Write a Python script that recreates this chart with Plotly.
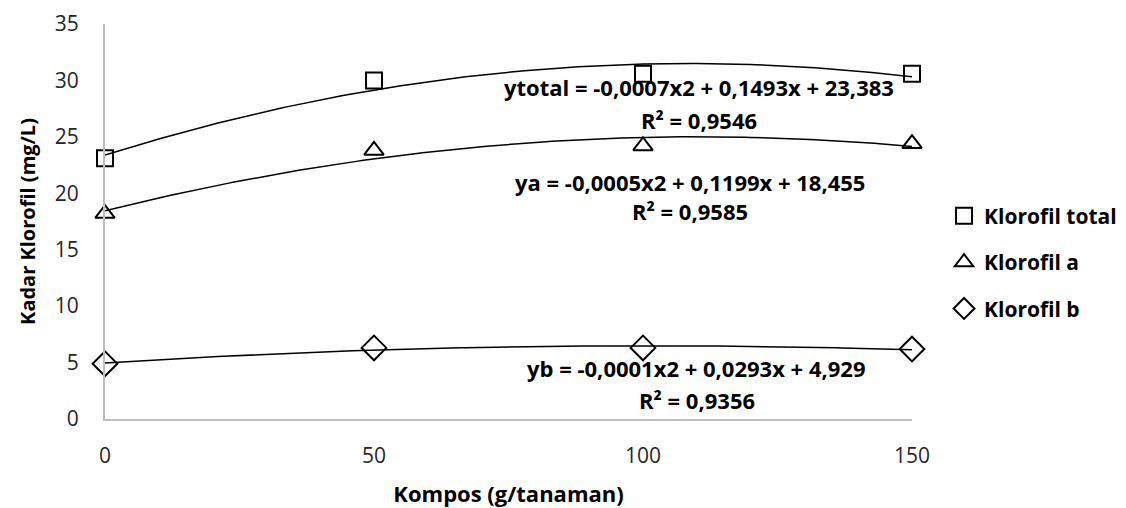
import numpy as np
import plotly.graph_objects as go

# ---- data ----
kompos = [0, 50, 100, 150]
klorofil_total = [23.1, 30.0, 30.6, 30.6]
klorofil_a = [18.2, 23.8, 24.2, 24.4]
klorofil_b = [4.9, 6.3, 6.3, 6.2]

series_names = ["Klorofil total", "Klorofil a", "Klorofil b"]
equations = [
    "ytotal = -0,0007x2 + 0,1493x + 23,383",
    "ya = -0,0005x2 + 0,1199x + 18,455",
    "yb = -0,0001x2 + 0,0293x + 4,929",
]
r_squared = ["R² = 0,9546", "R² = 0,9585", "R² = 0,9356"]
y_ticks = [0, 5, 10, 15, 20, 25, 30, 35]
x_ticks = [0, 50, 100, 150]

FONT = "Open Sans"
symbols = ["square-open", "triangle-up-open", "diamond-open"]
sizes = [16, 17, 19]

fig = go.Figure()
xs = np.linspace(min(kompos), max(kompos), 151)
all_series = [klorofil_total, klorofil_a, klorofil_b]

# polynomial (order 2) trendlines fitted to the data, as in the source chart
for vals in all_series:
    coef = np.polyfit(kompos, vals, 2)
    fig.add_trace(go.Scatter(x=xs, y=np.polyval(coef, xs), mode="lines",
                             line=dict(color="black", width=1.5),
                             showlegend=False, hoverinfo="skip", cliponaxis=False))

for i, (vals, name) in enumerate(zip(all_series, series_names)):
    fig.add_trace(go.Scatter(x=kompos, y=vals, mode="markers", name=name,
                             legendgroup=name, cliponaxis=False,
                             marker=dict(symbol=symbols[i], size=sizes[i],
                                         color="black",
                                         line=dict(color="black", width=2))))

# equation annotations (positions in data coords)
eq_pos = [(110.4, 29.4), (108.7, 21.0), (110.0, 4.5)]
r2_pos = [(110.4, 26.5), (108.8, 18.4), (110.0, 1.7)]
for (ex, ey), (rx, ry), eq, r2 in zip(eq_pos, r2_pos, equations, r_squared):
    fig.add_annotation(x=ex, y=ey, xref="x", yref="y", text=f"<b>{eq}</b>",
                       showarrow=False, font=dict(family=FONT, size=22, color="black"))
    fig.add_annotation(x=rx, y=ry, xref="x", yref="y", text=f"<b>{r2}</b>",
                       showarrow=False, font=dict(family=FONT, size=22, color="black"))

fig.update_layout(
    width=1126, height=508,
    margin=dict(l=105, r=214, t=24, b=89, autoexpand=False),
    paper_bgcolor="white", plot_bgcolor="white",
    font=dict(family=FONT, size=21, color="#404040"),
    showlegend=True,
    legend=dict(x=1.0397, y=0.397, xanchor="left", yanchor="middle",
                font=dict(family=FONT, size=21, color="black", weight="bold"),
                tracegroupgap=16, itemwidth=30, bgcolor="rgba(0,0,0,0)"),
)
fig.update_xaxes(range=[0, 150], tickvals=x_ticks, showgrid=False, zeroline=False,
                 showline=True, linecolor="#bfbfbf", linewidth=2,
                 ticks="", ticklabelstandoff=17,
                 tickfont=dict(family=FONT, size=21, color="#262626"),
                 title=dict(text="<b>Kompos (g/tanaman)</b>", standoff=22,
                            font=dict(family=FONT, size=22, color="black")),
                 automargin=False)
fig.update_yaxes(range=[0, 35], tickvals=y_ticks, showgrid=False, zeroline=False,
                 showline=True, linecolor="#bfbfbf", linewidth=2,
                 ticks="", ticklabelstandoff=20,
                 tickfont=dict(family=FONT, size=21, color="#262626"),
                 title=dict(text="<b>Kadar Klorofil (mg/L)</b>", standoff=14,
                            font=dict(family=FONT, size=20, color="black")),
                 automargin=False)

fig.write_html("out.html")
